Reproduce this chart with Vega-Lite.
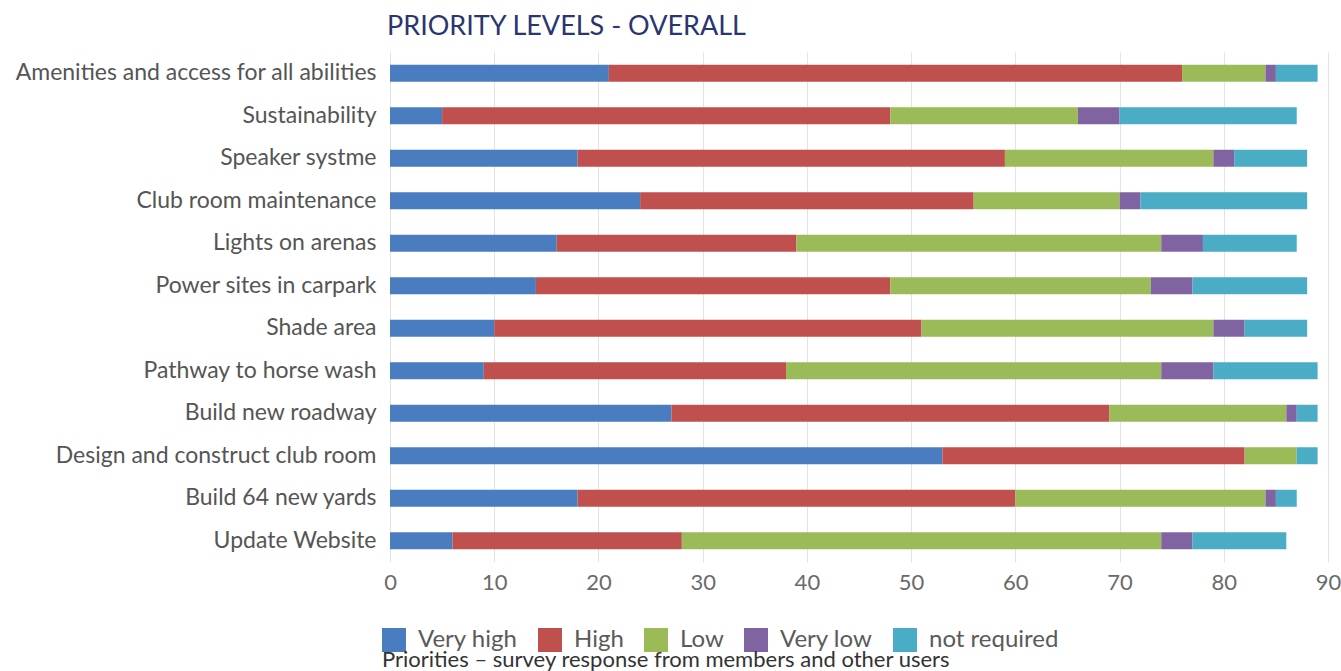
{
  "$schema": "https://vega.github.io/schema/vega-lite/v6.json",
  "autosize": {"type": "none"},
  "padding": {"left": 390, "top": 52, "right": 13, "bottom": 109},
  "width": 938,
  "height": 510,
  "background": "white",
  "title": {
    "text": "PRIORITY LEVELS - OVERALL",
    "anchor": "start",
    "frame": "group",
    "dx": -3,
    "offset": 11,
    "font": "Lato",
    "fontSize": 27,
    "fontWeight": "normal",
    "color": "#2b3570"
  },
  "data": {
    "values": [
      {"item": "Amenities and access for all abilities", "Very high": 21, "High": 55, "Low": 8, "Very low": 1, "not required": 4},
      {"item": "Sustainability", "Very high": 5, "High": 43, "Low": 18, "Very low": 4, "not required": 17},
      {"item": "Speaker systme", "Very high": 18, "High": 41, "Low": 20, "Very low": 2, "not required": 7},
      {"item": "Club room maintenance", "Very high": 24, "High": 32, "Low": 14, "Very low": 2, "not required": 16},
      {"item": "Lights on arenas", "Very high": 16, "High": 23, "Low": 35, "Very low": 4, "not required": 9},
      {"item": "Power sites in carpark", "Very high": 14, "High": 34, "Low": 25, "Very low": 4, "not required": 11},
      {"item": "Shade area", "Very high": 10, "High": 41, "Low": 28, "Very low": 3, "not required": 6},
      {"item": "Pathway to horse wash", "Very high": 9, "High": 29, "Low": 36, "Very low": 5, "not required": 10},
      {"item": "Build new roadway", "Very high": 27, "High": 42, "Low": 17, "Very low": 1, "not required": 2},
      {"item": "Design and construct club room", "Very high": 53, "High": 29, "Low": 5, "Very low": 0, "not required": 2},
      {"item": "Build 64 new yards", "Very high": 18, "High": 42, "Low": 24, "Very low": 1, "not required": 2},
      {"item": "Update Website", "Very high": 6, "High": 22, "Low": 46, "Very low": 3, "not required": 9}
    ]
  },
  "transform": [
    {"fold": ["Very high", "High", "Low", "Very low", "not required"], "as": ["level", "value"]},
    {"calculate": "indexof(['Very high', 'High', 'Low', 'Very low', 'not required'], datum.level)", "as": "ord"}
  ],
  "mark": {"type": "bar"},
  "encoding": {
    "y": {
      "field": "item",
      "type": "nominal",
      "sort": null,
      "scale": {"paddingInner": 0.6, "paddingOuter": 0.3},
      "axis": {
        "title": null,
        "domain": false,
        "ticks": false,
        "labelFont": "Lato",
        "labelFontWeight": "normal",
        "labelFontSize": 23,
        "labelColor": "#555555",
        "labelPadding": 14,
        "labelLimit": 500
      }
    },
    "x": {
      "field": "value",
      "type": "quantitative",
      "stack": "zero",
      "scale": {"domain": [0, 90], "nice": false},
      "axis": {
        "title": null,
        "values": [0, 10, 20, 30, 40, 50, 60, 70, 80, 90],
        "domain": false,
        "ticks": false,
        "grid": true,
        "gridColor": "#e3e3e3",
        "labelFont": "Lato",
        "labelFontWeight": "normal",
        "labelFontSize": 22,
        "labelColor": "#6a6a6a",
        "labelPadding": 10,
        "labelFlush": false
      }
    },
    "order": {"field": "ord", "type": "quantitative", "sort": "ascending"},
    "color": {
      "field": "level",
      "type": "nominal",
      "sort": ["Very high", "High", "Low", "Very low", "not required"],
      "scale": {
        "domain": ["Very high", "High", "Low", "Very low", "not required"],
        "range": ["#4a7dbf", "#c0504d", "#9bbb59", "#8064a2", "#4bacc6"]
      },
      "legend": {
        "orient": "none",
        "direction": "horizontal",
        "legendX": -8,
        "legendY": 576,
        "title": "Priorities – survey response from members and other users",
        "titleOrient": "bottom",
        "titleAnchor": "start",
        "titleFont": "Lato",
        "titleFontSize": 22,
        "titleFontWeight": "normal",
        "titleColor": "#333333",
        "titlePadding": -2,
        "titleLimit": 800,
        "symbolType": "square",
        "symbolSize": 576,
        "symbolStrokeWidth": 0,
        "symbolOpacity": 1,
        "labelFont": "Lato",
        "labelFontWeight": "normal",
        "labelFontSize": 24,
        "labelColor": "#5a5a5a",
        "labelOffset": 12,
        "columnPadding": 20
      }
    }
  },
  "config": {"view": {"stroke": null}}
}
